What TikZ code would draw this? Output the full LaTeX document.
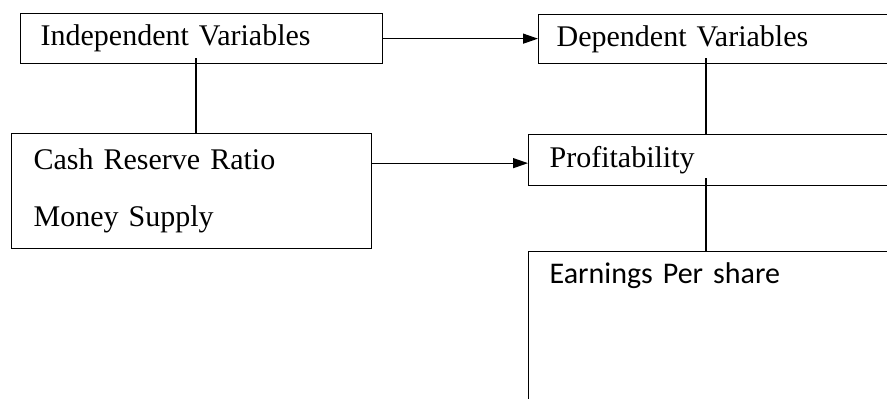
\documentclass[tikz,border=0pt]{standalone}
\usepackage{fontspec}
\setmainfont{Liberation Serif}
\newfontfamily\carlito{Carlito}
\usetikzlibrary{arrows.meta,positioning}

\begin{document}
\begin{tikzpicture}[x=1pt,y=-1pt,
    box/.style={draw,line width=1.3pt,anchor=north west,inner ysep=0pt,align=left,
        font=\fontsize{30}{57}\selectfont},
    arr/.style={-{Triangle[length=15pt,width=10pt]},line width=1.3pt}]
    \useasboundingbox (0,0) rectangle (887,399);
    \clip (0,0) rectangle (887,399);
    % top row
    \node[box,text width=322pt,inner xsep=20pt,minimum height=50pt] (indep) at (20,13) {Independent Variables};
    \node[box,text width=384pt,inner xsep=18pt,minimum height=49pt] (dep) at (538,14) {Dependent Variables};
    % second row
    \node[box,text width=316pt,inner xsep=22pt,minimum height=115pt] (cash) at (11,133) {Cash Reserve Ratio\\Money Supply};
    \node[box,text width=378pt,inner xsep=21pt,minimum height=51pt] (profit) at (528,134) {Profitability};
    % bottom box, runs off the page
    \node[box,text width=378pt,inner xsep=21pt,text height=32pt,text depth=200pt,
        font=\carlito\fontsize{30}{36}\selectfont] (eps) at (528,251) {Earnings Per share};
    % connectors
    \draw[arr] (indep.east) -- (indep.east -| dep.west);
    \draw[arr] ([yshift=-3pt]profit.west -| cash.east) -- ([yshift=-3pt]profit.west);
    \draw[line width=1.3pt] ([xshift=176pt,yshift=6pt]indep.south west) -- ([xshift=185pt]cash.north west);
    \draw[line width=1.3pt] ([xshift=168pt,yshift=6pt]dep.south west) -- ([xshift=178pt]profit.north west);
    \draw[line width=1.3pt] ([xshift=178pt,yshift=8pt]profit.south west) -- ([xshift=178pt]eps.north west);
\end{tikzpicture}
\end{document}
